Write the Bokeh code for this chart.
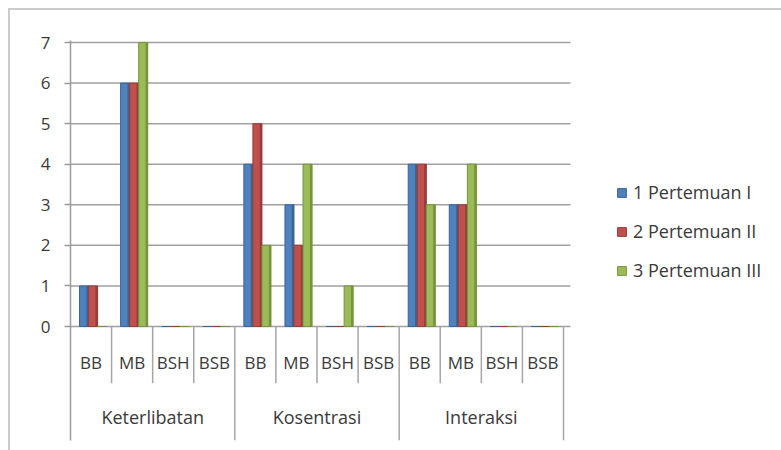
from bokeh.plotting import figure
from bokeh.models import (ColumnDataSource, FixedTicker, Legend, LegendItem, Range1d,
                          InlineStyleSheet)
from bokeh.core.properties import value
from bokeh.embed import file_html
from bokeh.resources import INLINE

# ---- data ----
groups = ["Keterlibatan", "Kosentrasi", "Interaksi"]
subs = ["BB", "MB", "BSH", "BSB"]
series = ["1 Pertemuan I", "2 Pertemuan II", "3 Pertemuan III"]
pert1 = [1, 6, 0, 0, 4, 3, 0, 0, 4, 3, 0, 0]
pert2 = [1, 6, 0, 0, 5, 2, 0, 0, 4, 3, 0, 0]
pert3 = [0, 7, 0, 0, 2, 4, 1, 0, 3, 4, 0, 0]
y_ticks = [0, 1, 2, 3, 4, 5, 6, 7]

colors = ["#4F81BD", "#C0504D", "#9BBB59"]
dark = ["#3A6496", "#963C3A", "#77933C"]
FONT = "Open Sans"
TXT = "#3a3a3a"

n_cat = len(groups) * len(subs)
unit_px = 493 / n_cat            # pixel width of one category slot
x_end = 711 / unit_px            # frame runs to the right edge so the legend fits inside it
plot_end = n_cat + 0.17          # where the plot area (gridlines) stops
y_lo = -2.81
p = figure(width=781, height=450, output_backend="svg", toolbar_location=None,
           x_range=Range1d(0, x_end), y_range=Range1d(y_lo, 7.05),
           x_axis_location=None, min_border_left=70, min_border_right=0,
           min_border_top=40, min_border_bottom=10)
p.outline_line_color = None
p.background_fill_color = "white"
p.border_fill_color = "white"

# axis
p.yaxis.ticker = FixedTicker(ticks=y_ticks)
p.yaxis.axis_line_color = "#9a9a9a"
p.yaxis.axis_line_width = 1.5
p.yaxis.major_tick_line_color = "#9a9a9a"
p.yaxis.major_tick_line_width = 1.5
p.yaxis.major_tick_out = 6
p.yaxis.major_tick_in = 0
p.yaxis.minor_tick_line_color = None
p.yaxis.major_label_standoff = 14
p.yaxis.major_label_text_font = FONT
p.yaxis.major_label_text_font_size = "17px"
p.yaxis.major_label_text_color = TXT
p.xgrid.visible = False
p.ygrid.visible = False

# gridlines limited to the plot area
p.segment(x0=[0] * len(y_ticks), y0=y_ticks, x1=[plot_end] * len(y_ticks), y1=y_ticks,
          line_color="#a0a0a0", line_width=1.5)

# bars
bw = 0.22
centers = [i + 0.5 for i in range(n_cat)]
renderers = []
for k, vals in enumerate([pert1, pert2, pert3]):
    xs = [c + (k - 1) * bw + 0.05 for c in centers]
    src = ColumnDataSource(dict(x=xs, top=vals))
    r = p.vbar(x="x", top="top", bottom=0, width=bw, source=src,
               fill_color=colors[k], line_color=dark[k], line_width=1)
    # darker right side to hint the 3D look
    src2 = ColumnDataSource(dict(x=[x + bw * 0.38 for x in xs], top=vals))
    p.vbar(x="x", top="top", bottom=0, width=bw * 0.24, source=src2,
           fill_color=dark[k], line_color=None)
    renderers.append(r)

# category separators
sub_x = [i for i in range(1, n_cat) if i % len(subs) != 0]
grp_x = [i * len(subs) for i in range(1, len(groups) + 1)]
p.segment(x0=sub_x, y0=[0] * len(sub_x), x1=sub_x, y1=[-1.40] * len(sub_x),
          line_color="#a6a6a6", line_width=1.5)
p.segment(x0=grp_x, y0=[0] * len(grp_x), x1=grp_x, y1=[y_lo] * len(grp_x),
          line_color="#a6a6a6", line_width=1.5)

# labels
p.text(x=centers, y=[-0.89] * n_cat, text=subs * len(groups),
       text_align="center", text_baseline="middle",
       text_font=value(FONT), text_font_size="17px", text_color=TXT)
gc = [i * len(subs) + len(subs) / 2 for i in range(len(groups))]
p.text(x=gc, y=[-2.23] * len(groups), text=groups,
       text_align="center", text_baseline="middle",
       text_font=value(FONT), text_font_size="18px", text_color=TXT)

# legend (inside the widened frame, right of the plot area)
legend = Legend(items=[LegendItem(label=s, renderers=[r]) for s, r in zip(series, renderers)],
                location=(546, 158), orientation="vertical",
                label_text_font=FONT, label_text_font_size="18px", label_text_color=TXT,
                glyph_width=11, glyph_height=11, label_height=20, spacing=15,
                padding=0, margin=0, border_line_color=None, background_fill_alpha=0,
                label_standoff=6)
p.add_layout(legend, "center")

# outer chart-area border (light grey frame as in the reference)
p.stylesheets = [InlineStyleSheet(css="""
:host::after { content: ""; position: absolute; left: 8px; top: 8px;
  width: 820px; height: 480px; border: 2px solid #cccccc;
  box-sizing: border-box; pointer-events: none; z-index: 10; }
""")]

open("out.html", "w").write(file_html(p, INLINE))
